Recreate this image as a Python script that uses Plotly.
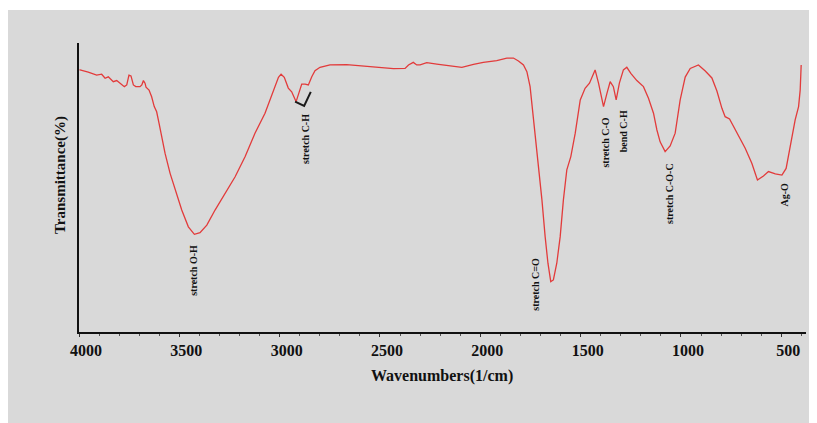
import plotly.graph_objects as go

# FTIR spectrum (wavenumber in 1/cm, transmittance in arbitrary %)
wavenumber = [3998, 3995, 3954, 3912, 3887, 3870, 3854, 3829, 3812, 3796, 3774, 3762, 3751, 3741,
              3729, 3717, 3696, 3687, 3679, 3671, 3666, 3651, 3638, 3625, 3613, 3601, 3588, 3571,
              3546, 3521, 3488, 3455, 3425, 3397, 3363, 3322, 3272, 3222, 3172, 3123, 3073, 3031,
              3006, 2993, 2977, 2957, 2940, 2918, 2902, 2890, 2873, 2857, 2840, 2824, 2799, 2749,
              2666, 2583, 2500, 2433, 2375, 2358, 2334, 2317, 2300, 2267, 2217, 2151, 2092, 2034,
              1985, 1918, 1868, 1835, 1810, 1785, 1768, 1752, 1738, 1727, 1710, 1693, 1677, 1663,
              1649, 1636, 1619, 1602, 1586, 1569, 1549, 1527, 1502, 1478, 1456, 1428, 1411, 1386,
              1369, 1353, 1337, 1323, 1307, 1287, 1270, 1250, 1220, 1187, 1162, 1137, 1120, 1104,
              1079, 1054, 1029, 1004, 979, 954, 913, 879, 846, 821, 796, 780, 758, 721, 680, 647,
              619, 589, 564, 530, 497, 476, 456, 431, 414, 406, 401]
transmittance = [90.7, 90.7, 89.9, 88.9, 89.2, 87.8, 88.3, 86.6, 87.0, 86.1, 84.9, 85.5, 88.9, 88.6,
                 85.5, 84.9, 84.9, 85.5, 87.0, 86.1, 84.7, 83.7, 81.4, 78.0, 76.2, 72.2, 67.6, 61.8,
                 54.9, 49.1, 42.2, 36.4, 33.8, 34.4, 37.0, 42.2, 48.0, 53.7, 60.7, 68.8, 75.7, 83.1,
                 88.1, 89.2, 88.1, 84.4, 83.1, 79.7, 83.1, 85.8, 85.8, 85.5, 88.3, 90.4, 91.6, 92.4,
                 92.5, 92.0, 91.6, 91.1, 91.2, 92.4, 93.3, 92.4, 92.4, 93.2, 92.7, 92.1, 91.6, 92.6,
                 93.3, 93.9, 94.8, 94.8, 93.8, 92.4, 90.1, 84.9, 76.1, 68.8, 57.2, 45.7, 33.0, 23.8,
                 17.4, 18.0, 23.8, 33.0, 45.7, 56.1, 60.7, 68.8, 80.3, 84.3, 86.1, 90.7, 86.1, 78.0,
                 82.6, 86.6, 84.9, 80.3, 86.1, 90.7, 91.6, 89.5, 87.0, 84.9, 80.9, 75.7, 69.9, 65.8,
                 62.4, 64.4, 68.8, 80.3, 88.2, 91.2, 92.4, 90.3, 87.9, 83.4, 77.4, 74.5, 73.7, 68.8,
                 63.6, 58.4, 52.6, 54.0, 55.5, 54.7, 54.3, 56.6, 64.1, 73.4, 78.0, 83.7, 92.4]

# Peak labels
label_text = ["stretch O-H", "stretch C-H", "stretch C=O", "stretch C-O", "bend C-H",
              "stretch C-O-C", "Ag-O"]
label_wn = [3430, 2868, 1727, 1378, 1287, 1054, 489]
label_t = [21.3, 66.8, 16.4, 65.6, 69.6, 47.8, 47.4]

# Bracket marker near the C-H stretch
bracket_wn = [2923, 2878, 2845]
bracket_t = [79.7, 78.2, 83.1]

tick_vals = [4000, 3500, 3000, 2500, 2000, 1500, 1000, 500]
tick_text = ["4000", "3500", "3000", "2500", "2000", "1500", "1000", "500"]

SERIF = "Liberation Serif, Times New Roman, serif"

fig = go.Figure()
fig.add_trace(go.Scatter(x=wavenumber, y=transmittance, mode="lines",
                         line=dict(color="#e23b3b", width=1.3), hoverinfo="skip",
                         showlegend=False))
fig.add_trace(go.Scatter(x=bracket_wn, y=bracket_t, mode="lines",
                         line=dict(color="#1a1a1a", width=2), hoverinfo="skip",
                         showlegend=False))

for txt, xw, yt in zip(label_text, label_wn, label_t):
    fig.add_annotation(x=xw, y=yt, xref="x", yref="y", text=txt, showarrow=False,
                       textangle=-90, font=dict(family=SERIF, size=10, color="#111111",
                                                weight="bold"))

fig.add_annotation(x=0.4995, y=-0.152, xref="paper", yref="paper", text="Wavenumbers(1/cm)",
                   showarrow=False, xanchor="center", yanchor="middle",
                   font=dict(family=SERIF, size=16, color="#111111", weight="bold"))
fig.add_annotation(x=-0.0261, y=0.543, xref="paper", yref="paper", text="Transmittance(%)",
                   showarrow=False, xanchor="center", yanchor="middle", textangle=-90,
                   font=dict(family=SERIF, size=15, color="#111111", weight="bold"))

# thin white strip at the very top of the grey image area
fig.add_shape(type="rect", xref="paper", yref="paper", x0=-0.2, x1=1.2, y0=1.1142, y1=1.2,
              fillcolor="white", line=dict(width=0), layer="above")

fig.update_xaxes(range=[4000, 377], showline=True, linecolor="#111111", linewidth=2,
                 showgrid=False, zeroline=False, ticks="outside", ticklen=3, tickwidth=1,
                 tickcolor="#333333", tickvals=tick_vals, ticktext=tick_text,
                 ticklabelshift=-7, ticklabelstandoff=0,
                 tickfont=dict(family=SERIF, size=16, color="#111111", weight="bold"),
                 minor=dict(dtick=100, ticks="outside", ticklen=2, tickcolor="#555555"))
fig.update_yaxes(range=[0, 100], showline=True, linecolor="#111111", linewidth=2,
                 showgrid=False, zeroline=False, showticklabels=False, ticks="")

fig.update_layout(width=807, height=415, margin=dict(l=71, r=9, t=35, b=91),
                  paper_bgcolor="#d9d9d9", plot_bgcolor="#d9d9d9", showlegend=False)

fig.write_html("out.html")
